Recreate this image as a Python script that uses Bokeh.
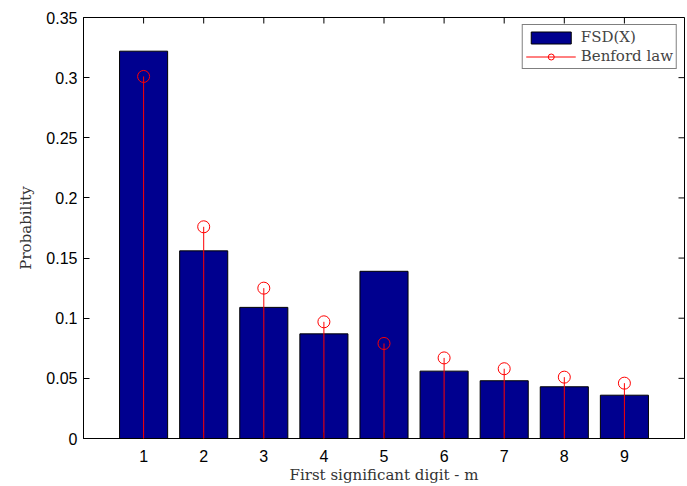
import math
from bokeh.plotting import figure
from bokeh.models import (ColumnDataSource, Range1d, FixedTicker,
                          Legend, LegendItem)
from bokeh.embed import file_html
from bokeh.resources import INLINE

# ---- data ----
digits = [1, 2, 3, 4, 5, 6, 7, 8, 9]
fsd = [0.322, 0.156, 0.109, 0.087, 0.139, 0.056, 0.048, 0.043, 0.036]
benford = [0.301, 0.176, 0.125, 0.097, 0.079, 0.067, 0.058, 0.051, 0.046]
x_ticks = [1, 2, 3, 4, 5, 6, 7, 8, 9]
y_ticks = [0, 0.05, 0.1, 0.15, 0.2, 0.25, 0.3, 0.35]
y_tick_labels = ["0", "0.05", "0.1", "0.15", "0.2", "0.25", "0.3", "0.35"]
x_min, x_max = 0, 10
y_min, y_max = 0, 0.35

bar_src = ColumnDataSource(dict(x=digits, top=fsd))
ben_src = ColumnDataSource(dict(x=digits, y=benford, y0=[0] * len(digits)))

p = figure(width=687, height=486, output_backend="svg", toolbar_location=None,
           x_range=Range1d(x_min, x_max), y_range=Range1d(y_min, y_max),
           min_border_left=83, min_border_right=3, min_border_top=17,
           min_border_bottom=48)
p.grid.visible = False
p.outline_line_color = "black"
p.outline_line_width = 1
p.background_fill_color = "white"
p.border_fill_color = "white"

bars = p.vbar(x="x", top="top", width=0.8, source=bar_src,
              fill_color="#00008F", line_color="black", line_width=1)
stems = p.segment(x0="x", y0="y0", x1="x", y1="y", source=ben_src,
                  line_color="red", line_width=1, level="overlay")
marks = p.scatter(x="x", y="y", source=ben_src, marker="circle", size=12,
                  fill_color=None, line_color="red", line_width=1)

# inward tick marks on the top and right edges of the box
p.scatter(x=x_ticks, y=[y_max] * len(x_ticks), marker="dash", size=12,
          angle=math.pi / 2, line_color="black", line_width=1)
p.scatter(x=[x_max] * len(y_ticks), y=y_ticks, marker="dash", size=12,
          line_color="black", line_width=1)

tick_font = "Liberation Sans"
for ax in p.xaxis:
    ax.ticker = FixedTicker(ticks=x_ticks)
    ax.axis_label = "First significant digit - m"
    ax.major_label_standoff = 11
    ax.axis_label_standoff = 1
for ax in p.yaxis:
    ax.ticker = FixedTicker(ticks=y_ticks)
    ax.major_label_overrides = {t: l for t, l in zip(y_ticks, y_tick_labels)}
    ax.axis_label = "Probability"
    ax.major_label_standoff = 6
    ax.axis_label_standoff = 8

for ax in list(p.xaxis) + list(p.yaxis):
    ax.major_tick_in = 6
    ax.major_tick_out = 0
    ax.minor_tick_in = 0
    ax.minor_tick_out = 0
    ax.axis_line_color = "black"
    ax.major_tick_line_color = "black"
    ax.major_label_text_font = tick_font
    ax.major_label_text_font_size = "16px"
    ax.major_label_text_color = "black"
    ax.axis_label_text_font = "DejaVu Serif"
    ax.axis_label_text_font_size = "15px"
    ax.axis_label_text_font_style = "normal"
    ax.axis_label_text_color = "#333333"

legend = Legend(items=[LegendItem(label="FSD(X)", renderers=[bars]),
                       LegendItem(label="Benford law", renderers=[stems, marks])],
                location="top_right", margin=7, padding=3, spacing=1,
                glyph_width=50, glyph_height=15, label_standoff=5,
                label_text_font="DejaVu Serif", label_text_font_size="15px",
                label_height=16,
                border_line_color="black", border_line_width=1,
                background_fill_color="white", background_fill_alpha=1)
p.add_layout(legend, "center")

open("out.html", "w").write(file_html(p, INLINE))
